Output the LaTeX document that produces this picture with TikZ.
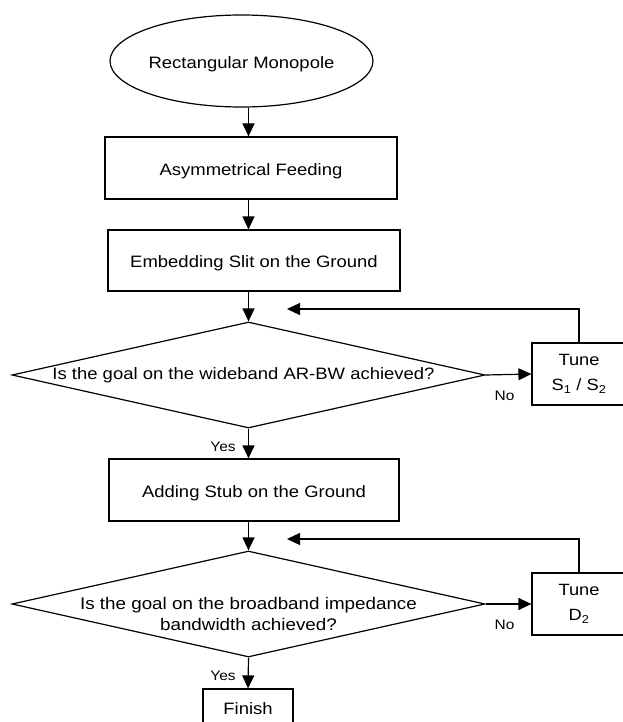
\documentclass[tikz,border=0pt]{standalone}
\usepackage{fontspec}
\setmainfont{Liberation Sans}[FakeStretch=1.12]
\usetikzlibrary{shapes.geometric,arrows.meta}
\begin{document}
\begin{tikzpicture}[x=1pt,y=-1pt,
  line width=1.2pt,
  txt/.style={font=\fontsize{16.5}{20}\selectfont},
  box/.style={draw,rectangle,inner sep=0pt,txt,text height=15pt,text depth=0.5pt},
  tunebox/.style={draw,rectangle,inner sep=0pt,minimum width=94pt,minimum height=62pt,align=center,font=\fontsize{16.3}{25}\selectfont},
  dec/.style={draw,diamond,inner sep=0pt,minimum width=473pt,minimum height=106pt},
  arr/.style={-{Triangle[length=13pt,width=12pt]}},
  lab/.style={font=\fontsize{13.8}{16}\selectfont,inner sep=0pt,anchor=base}]
\useasboundingbox (0,0) rectangle (622,722);

\node[box,ellipse,minimum width=246pt,minimum height=92pt] (ell) at (241.5,61) {Rectangular Monopole};
\node[box,minimum width=292pt,minimum height=62pt] (b1) at (251,168) {Asymmetrical Feeding};
\node[box,minimum width=292pt,minimum height=61pt] (b2) at (254,260.5) {Embedding Slit on the Ground};
\node[dec,label={[xshift=-5pt,txt]center:Is the goal on the wideband AR-BW achieved?}] (d1) at (248.5,375) {};
\node[tunebox] (t1) at (579,374) {Tune\\[0pt]S\textsubscript{1} / S\textsubscript{2}};
\node[box,minimum width=290pt,minimum height=62pt] (b3) at (254,490) {Adding Stub on the Ground};
\node[dec,label={[align=center,yshift=-9.5pt,font=\fontsize{16.8}{21}\selectfont]center:Is the goal on the broadband impedance\\bandwidth achieved?}] (d2) at (248.5,604) {};
\node[tunebox] (t2) at (579,604) {Tune\\D\textsubscript{2}};
\node[box,minimum width=90pt,minimum height=36pt] (fin) at (248,707) {Finish};

\coordinate (fb1) at (287,309);
\coordinate (fb2) at (287,539);

\draw[arr] (ell.south -| d1.north) -- (b1.north -| d1.north);
\draw[arr] (b1.south -| d1.north) -- (b2.north -| d1.north);
\draw[arr] (b2.south -| d1.north) -- (d1.north);
\draw[arr] (d1.east) -- (t1.west);
\draw[arr] (t1.north) |- (fb1);
\draw[arr] (d1.south) -- (b3.north -| d1.south);
\draw[arr] (b3.south -| d2.north) -- (d2.north);
\draw[arr] (d2.east) -- (t2.west);
\draw[arr] (t2.north) |- (fb2);
\draw[arr] (d2.south) -- (fin.north);

\node[lab] (y1) at (223,451.5) {Yes};
\node[lab] (n1) at (504.5,400) {No};
\node[lab] (y2) at (223,680) {Yes};
\node[lab] (n2) at (504.5,629) {No};
\end{tikzpicture}
\end{document}
